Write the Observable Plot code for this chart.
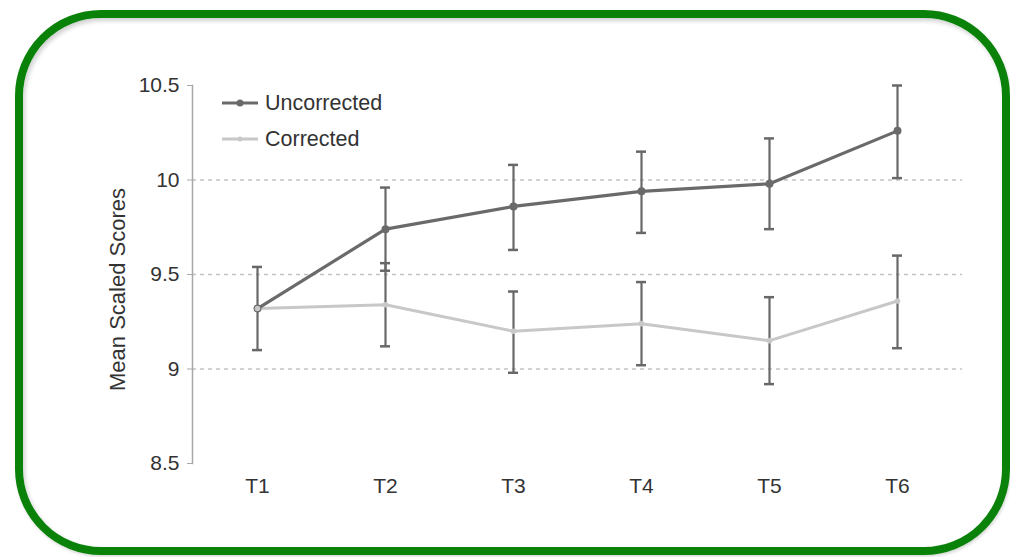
<!DOCTYPE html>
<html>
<head>
<meta charset="utf-8">
<script src="https://cdn.jsdelivr.net/npm/d3@7"></script>
<script src="https://cdn.jsdelivr.net/npm/@observablehq/plot@0.6"></script>
<style>
  html, body { margin: 0; padding: 0; background: #fff; }
  #wrap { position: relative; width: 1010px; height: 557px; overflow: hidden; font-family: "Liberation Sans", Arial, Helvetica, sans-serif; }
  #chart { position: absolute; left: 0; top: 0; }
  #border { position: absolute; left: 15px; top: 10px; width: 995px; height: 545px; box-sizing: border-box;
            border: 8px solid #0a820a; border-radius: 86px; pointer-events: none;
            box-shadow: inset 2px 3px 4px rgba(0,0,0,0.18), 1px 2px 3px rgba(0,0,0,0.15); }
  #legend { position: absolute; left: 222px; top: 85px; font-size: 21.5px; color: #333; }
  .item { display: flex; align-items: center; height: 36px; }
  .item svg { margin-right: 7px; }
</style>
</head>
<body>
<div id="wrap">
  <div id="chart"></div>
  <div id="legend"></div>
  <div id="border"></div>
</div>
<script>
const times = ["T1", "T2", "T3", "T4", "T5", "T6"];
const uncorrected     = [9.32, 9.74, 9.86, 9.94, 9.98, 10.26];
const uncorrectedLow  = [9.10, 9.52, 9.63, 9.72, 9.74, 10.01];
const uncorrectedHigh = [9.54, 9.96, 10.08, 10.15, 10.22, 10.50];
const corrected       = [9.32, 9.34, 9.20, 9.24, 9.15, 9.36];
const correctedLow    = [9.10, 9.12, 8.98, 9.02, 8.92, 9.11];
const correctedHigh   = [9.54, 9.56, 9.41, 9.46, 9.38, 9.60];
const yTicks = [8.5, 9, 9.5, 10, 10.5];
const gridValues = [9, 9.5, 10];
const seriesNames = ["Uncorrected", "Corrected"];
const seriesColors = ["#6a6a6a", "#c8c8c8"];
const yTitle = "Mean Scaled Scores";

const unc = times.map((t, i) => ({t, v: uncorrected[i], lo: uncorrectedLow[i], hi: uncorrectedHigh[i]}));
const cor = times.map((t, i) => ({t, v: corrected[i], lo: correctedLow[i], hi: correctedHigh[i]}));
// T1 shares one error bar for both series
const bars = unc.concat(cor.slice(1));

const barColor = "#686868";
const plot = Plot.plot({
  width: 1010,
  height: 557,
  marginLeft: 192,
  marginRight: 48,
  marginTop: 85,
  marginBottom: 94,
  style: {fontFamily: "'Liberation Sans', Arial, Helvetica, sans-serif", background: "transparent"},
  x: {type: "point", domain: times, padding: 0.5},
  y: {domain: [8.5, 10.5]},
  marks: [
    Plot.ruleY(gridValues, {stroke: "#c4c4c4", strokeWidth: 1.3, strokeDasharray: "4,4"}),
    Plot.frame({anchor: "left", stroke: "#a8a8a8", strokeWidth: 1.5}),
    Plot.axisY({ticks: yTicks, tickFormat: d => String(d), tickSize: 5, tickPadding: 8, stroke: "#a8a8a8",
                fill: "#333", fontSize: 21, label: null}),
    Plot.text([yTitle], {frameAnchor: "left", textAnchor: "middle", rotate: -90, dx: -75, dy: 15, fontSize: 22, fill: "#333"}),
    Plot.axisX({tickSize: 0, tickPadding: 15, fill: "#333", fontSize: 21, label: null}),
    Plot.line(cor, {x: "t", y: "v", stroke: seriesColors[1], strokeWidth: 3}),
    Plot.ruleX(bars, {x: "t", y1: "lo", y2: "hi", stroke: barColor, strokeWidth: 2.2}),
    Plot.ruleY(bars, {x1: "t", x2: "t", y: "lo", insetLeft: -5, insetRight: -5, stroke: barColor, strokeWidth: 2.5}),
    Plot.ruleY(bars, {x1: "t", x2: "t", y: "hi", insetLeft: -5, insetRight: -5, stroke: barColor, strokeWidth: 2.5}),
    Plot.line(unc, {x: "t", y: "v", stroke: seriesColors[0], strokeWidth: 3.2}),
    Plot.dot(unc, {x: "t", y: "v", r: 4, fill: seriesColors[0]}),
    Plot.dot(cor, {x: "t", y: "v", r: 2.8, fill: seriesColors[1]})
  ]
});
document.getElementById("chart").appendChild(plot);

const legend = document.getElementById("legend");
seriesNames.forEach((name, i) => {
  const row = document.createElement("div");
  row.className = "item";
  row.innerHTML = `<svg width="36" height="10"><line x1="0" y1="5" x2="36" y2="5" stroke="${seriesColors[i]}" stroke-width="3"/><circle cx="18" cy="5" r="${i === 0 ? 3.5 : 2.5}" fill="${seriesColors[i]}"/></svg><span>${name}</span>`;
  legend.appendChild(row);
});
</script>
</body>
</html>
